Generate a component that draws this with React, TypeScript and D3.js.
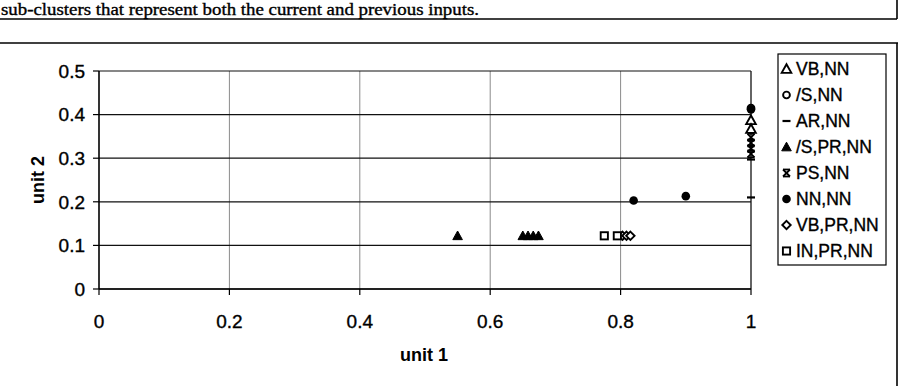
import React from "react";
import * as d3 from "d3";

const caption = "sub-clusters that represent both the current and previous inputs.";
const xTicks = [0, 0.2, 0.4, 0.6, 0.8, 1];
const yTicks = [0, 0.1, 0.2, 0.3, 0.4, 0.5];
const seriesNames = ["VB,NN", "/S,NN", "AR,NN", "/S,PR,NN", "PS,NN", "NN,NN", "VB,PR,NN", "IN,PR,NN"];
const seriesShapes = ["triOpen", "circleOpen", "dash", "triFilled", "star", "circleFilled", "diamondOpen", "squareOpen"];

const vbNN = [[1, 0.387], [1, 0.367]];
const sNN = [[1, 0.415]];
const arNN = [[1, 0.297], [1, 0.21]];
const sPRNN = [[0.55, 0.122], [0.65, 0.122], [0.658, 0.122], [0.666, 0.122], [0.674, 0.122]];
const psNN = [[1, 0.348], [1, 0.335], [1, 0.322], [1, 0.31]];
const nnNN = [[0.82, 0.203], [0.9, 0.213], [1, 0.412]];
const vbPRNN = [[0.803, 0.122], [0.809, 0.122], [0.815, 0.122]];
const inPRNN = [[0.775, 0.122], [0.795, 0.122]];
const seriesData = [vbNN, sNN, arNN, sPRNN, psNN, nnNN, vbPRNN, inPRNN];

function Marker({ shape, x, y }: { shape: string; x: number; y: number }) {
  const s = 4.8;
  switch (shape) {
    case "triOpen":
      return <path d={`M${x},${y - s}L${x + s},${y + s * 0.8}L${x - s},${y + s * 0.8}Z`} fill="#fff" stroke="#000" strokeWidth={1.9} />;
    case "triFilled":
      return <path d={`M${x},${y - s}L${x + s},${y + s * 0.8}L${x - s},${y + s * 0.8}Z`} fill="#000" stroke="#000" strokeWidth={1} />;
    case "circleOpen":
      return <circle cx={x} cy={y} r={3.4} fill="#fff" stroke="#000" strokeWidth={1.9} />;
    case "circleFilled":
      return <circle cx={x} cy={y} r={4.3} fill="#000" />;
    case "dash":
      return <line x1={x - 4} x2={x + 4} y1={y} y2={y} stroke="#000" strokeWidth={2.2} />;
    case "star":
      return (
        <g stroke="#000" strokeWidth={1.8}>
          <line x1={x - 3.5} x2={x + 3.5} y1={y - 3.5} y2={y + 3.5} />
          <line x1={x - 3.5} x2={x + 3.5} y1={y + 3.5} y2={y - 3.5} />
          <line x1={x - 3.5} x2={x + 3.5} y1={y - 3.5} y2={y - 3.5} />
          <line x1={x - 3.5} x2={x + 3.5} y1={y + 3.5} y2={y + 3.5} />
        </g>
      );
    case "diamondOpen":
      return <path d={`M${x},${y - 4.2}L${x + 4.2},${y}L${x},${y + 4.2}L${x - 4.2},${y}Z`} fill="#fff" stroke="#000" strokeWidth={1.9} />;
    case "squareOpen":
      return <rect x={x - 3.6} y={y - 3.6} width={7.2} height={7.2} fill="#fff" stroke="#000" strokeWidth={1.9} />;
  }
  return null;
}

export default function App() {
  const x = d3.scaleLinear().domain([0, 1]).range([99, 751]);
  const y = d3.scaleLinear().domain([0, 0.5]).range([289, 71]);
  const sans = "'Liberation Sans', Arial, sans-serif";
  const fmt = (v: number) => (v === 0 || v === 1 ? String(v) : d3.format(".1f")(v));
  const ink = { stroke: "#000", strokeWidth: 0.35 };

  return (
    <div style={{ position: "fixed", left: 0, top: 0 }}>
      <svg width={900} height={386} style={{ display: "block", background: "#fff" }}>
        {/* caption box */}
        <text x={1} y={14.5} fontFamily="'Liberation Serif', 'Times New Roman', serif" fontSize={16.5} fill="#000" {...ink} textLength={478} lengthAdjust="spacingAndGlyphs">
          {caption}
        </text>
        <line x1={0} x2={897} y1={19} y2={19} stroke="#000" strokeWidth={1.6} />
        <line x1={897} x2={897} y1={0} y2={19} stroke="#000" strokeWidth={1.6} />
        {/* chart box */}
        <line x1={0} x2={898} y1={43} y2={43} stroke="#000" strokeWidth={1.6} />
        <line x1={897} x2={897} y1={43} y2={386} stroke="#000" strokeWidth={1.6} />

        {/* vertical gridlines */}
        {xTicks.filter((t) => t > 0 && t < 1).map((t) => (
          <line key={"vx" + t} x1={x(t)} x2={x(t)} y1={y(0.5)} y2={y(0)} stroke="#8a8a8a" strokeWidth={1} />
        ))}
        {/* horizontal gridlines */}
        {yTicks.map((t) => (
          <line key={"hy" + t} x1={x(0)} x2={x(1)} y1={y(t)} y2={y(t)} stroke="#111" strokeWidth={1.2} />
        ))}
        {/* plot border right */}
        <line x1={x(1)} x2={x(1)} y1={y(0.5)} y2={y(0)} stroke="#111" strokeWidth={1.3} />
        {/* axes */}
        <line x1={x(0)} x2={x(0)} y1={y(0.5)} y2={y(0)} stroke="#000" strokeWidth={1.6} />
        <line x1={x(0)} x2={x(1)} y1={y(0)} y2={y(0)} stroke="#000" strokeWidth={1.6} />
        {yTicks.map((t) => (
          <g key={"yt" + t}>
            <line x1={x(0) - 6} x2={x(0)} y1={y(t)} y2={y(t)} stroke="#000" strokeWidth={1.2} />
            <text x={85} y={y(t)} dy="0.36em" textAnchor="end" fontFamily={sans} fontSize={19} fill="#000" {...ink}>
              {fmt(t)}
            </text>
          </g>
        ))}
        {xTicks.map((t) => (
          <g key={"xt" + t}>
            <line x1={x(t)} x2={x(t)} y1={y(0)} y2={y(0) + 6} stroke="#000" strokeWidth={1.2} />
            <text x={x(t)} y={328} textAnchor="middle" fontFamily={sans} fontSize={19} fill="#000" {...ink}>
              {fmt(t)}
            </text>
          </g>
        ))}
        <text x={424} y={361} textAnchor="middle" fontFamily={sans} fontSize={18} fontWeight="bold" fill="#000">
          unit 1
        </text>
        <text transform={`translate(44,${y(0.25)}) rotate(-90)`} textAnchor="middle" fontFamily={sans} fontSize={18} fontWeight="bold" fill="#000">
          unit 2
        </text>

        {/* data */}
        {seriesData.map((pts, i) =>
          pts.map((p, j) => <Marker key={i + "-" + j} shape={seriesShapes[i]} x={x(p[0])} y={y(p[1])} />)
        )}

        {/* legend */}
        <rect x={778} y={54} width={108} height={211} fill="#fff" stroke="#000" strokeWidth={1.2} />
        {seriesNames.map((n, i) => (
          <g key={"lg" + n}>
            <Marker shape={seriesShapes[i]} x={786.5} y={69 + i * 26} />
            <text x={796} y={69 + i * 26} dy="0.36em" fontFamily={sans} fontSize={17.5} fill="#000" {...ink}>
              {n}
            </text>
          </g>
        ))}
      </svg>
    </div>
  );
}
